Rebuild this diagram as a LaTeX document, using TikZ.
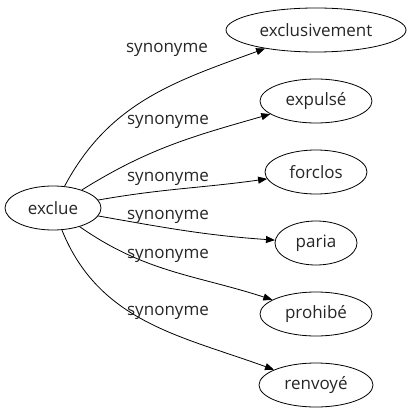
\documentclass[tikz,border=0pt]{standalone}
\usepackage{fontspec}
\setmainfont{Open Sans}
\usetikzlibrary{arrows.meta,shapes.geometric}
\begin{document}
\begin{tikzpicture}[x=1pt,y=-1pt,
  every node/.style={font=\fontsize{17}{19}\selectfont, text=black!85},
  word/.style={draw, ellipse, line width=0.8pt, inner sep=0pt, minimum height=44pt},
  lbl/.style={inner sep=0pt},
  syn/.style={draw, line width=0.8pt, -{Triangle[length=9pt,width=7pt]}}]
\useasboundingbox (0,0) rectangle (410,419);
\node[word, minimum width=96pt] (ex) at (53,208) {exclue};
\node[word, minimum width=180pt] (a) at (316,30) {exclusivement};
\node[word, minimum width=112pt] (b) at (316,101) {expulsé};
\node[word, minimum width=102pt] (c) at (316,172) {forclos};
\node[word, minimum width=82pt] (d) at (316,243) {paria};
\node[word, minimum width=112pt] (e) at (316,314) {prohibé};
\node[word, minimum width=114pt] (f) at (316,385) {renvoyé};
\draw[syn] (ex) to[out=62,in=200] (a);
\draw[syn] (ex) to[out=32,in=196] (b);
\draw[syn] (ex) to[out=10,in=188] (c);
\draw[syn] (ex) to[out=-10,in=176] (d);
\draw[syn] (ex) to[out=-35,in=162] (e);
\draw[syn] (ex) to[out=-68,in=160] (f);
\node[lbl] (l1) at (167,50) {synonyme};
\node[lbl] (l2) at (168,122) {synonyme};
\node[lbl] (l3) at (168,179) {synonyme};
\node[lbl] (l4) at (168,217) {synonyme};
\node[lbl] (l5) at (168,256) {synonyme};
\node[lbl] (l6) at (168,313) {synonyme};
\end{tikzpicture}
\end{document}
